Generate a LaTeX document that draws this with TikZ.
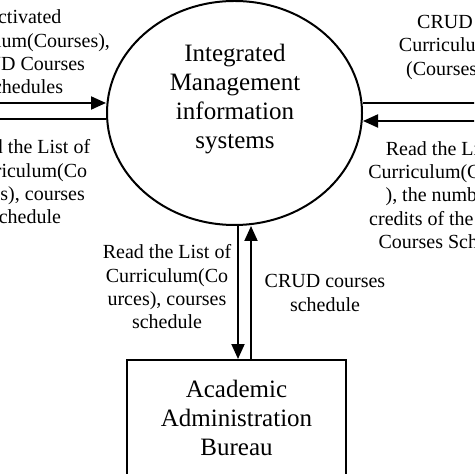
\documentclass[tikz,border=0pt]{standalone}
\usepackage{fontspec}
\setmainfont{Liberation Serif}
\usetikzlibrary{arrows.meta,shapes.geometric}
\tikzset{
	flow/.style={line width=1pt, -{Triangle[length=7.5pt,width=6.5pt]}},
	proc/.style={ellipse, draw, line width=1pt, minimum width=127.5pt, minimum height=112pt},
	entity/.style={rectangle, draw, line width=1pt, minimum width=109.5pt, minimum height=58pt, align=center, font=\fontsize{12.5pt}{14.65pt}\selectfont},
	bigtext/.style={align=center, font=\fontsize{12.5pt}{14.65pt}\selectfont},
	flowtext/.style={align=center, font=\fontsize{10pt}{11.65pt}\selectfont}
}

\begin{document}
\begin{tikzpicture}[x=0.5pt, y=-0.5pt]
			%%%%% START %%%%%
			
			\useasboundingbox (0, 0) rectangle (474, 474);
			\clip (0, 0) rectangle (474, 474);
			
			\node[proc] (ims) at (234.5, 113) {};
			\node[bigtext] (imstext) at (235, 99) {Integrated\\Management\\information\\systems};
			
			\node[entity] (aab) at (236.5, 418) {Academic\\Administration\\Bureau};
			
			\coordinate (lin) at (-40, 103);
			\coordinate (lout) at (-40, 119);
			\coordinate (rout) at (514, 103);
			\coordinate (rin) at (514, 121);
			\coordinate (dtop) at ([xshift=1.75pt]ims.south);
			\coordinate (utop) at ([xshift=8.25pt]ims.south);
			
			\draw[flow] (lin) -- (lin -| ims.west);
			\draw[flow] (lout -| ims.west) -- (lout);
			\draw[flow] (rout -| ims.east) -- (rout);
			\draw[flow] (rin) -- (rin -| ims.east);
			\draw[flow] (dtop) -- (dtop |- aab.north);
			\draw[flow] (utop |- aab.north) -- (utop);
			
			\node[flowtext] (ltop) at (22.5, 52) {Activated\\Curriculum(Courses),\\CRUD Courses\\Schedules};
			\node[flowtext] (lbot) at (26, 182) {Read the List of\\Curriculum(Co\\urses), courses\\schedule};
			\node[flowtext] (rtop) at (445, 47.5) {CRUD\\Curriculum\\(Courses)};
			\node[flowtext] (rbot) at (450, 195) {Read the List of\\Curriculum(Courses\\), the number of\\credits of the course\\Courses Schedule};
			\node[flowtext] (dtext) at (167, 287) {Read the List of\\Curriculum(Co\\urces), courses\\schedule};
			\node[flowtext] (utext) at (325, 293) {CRUD courses\\schedule};
			
			%%%%% END %%%%%
		\end{tikzpicture}
\end{document}
